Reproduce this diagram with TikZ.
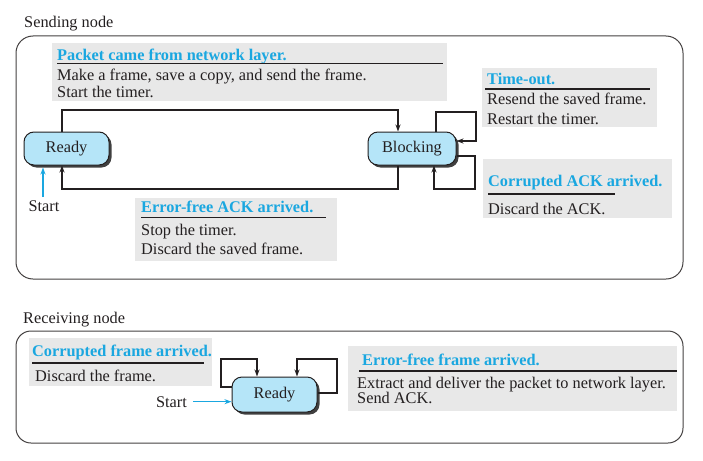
\documentclass[tikz,border=0pt]{standalone}
\usepackage{fontspec}
\setmainfont{Liberation Serif}
\usetikzlibrary{arrows.meta,shadows}
\definecolor{ttl}{HTML}{1AA7E0}
\definecolor{sfill}{HTML}{B5E5F8}
\definecolor{gbg}{HTML}{E8E8E8}
\definecolor{ink}{HTML}{231F20}
\tikzset{
  txt/.style={anchor=base west, inner sep=0pt, text=ink, font=\fontsize{16.3}{19}\selectfont},
  ttltxt/.style={txt, text=ttl, font=\fontsize{16.3}{19}\selectfont\bfseries},
  gbox/.style={fill=gbg, draw=none, inner sep=0pt},
  uline/.style={draw=ink, line width=1.1pt},
  frame/.style={draw=ink!85, line width=1pt},
  state/.style={draw=ink, line width=1pt, fill=sfill, rounded corners=10pt, inner sep=0pt,
    text=ink, font=\fontsize{16.3}{19}\selectfont,
    drop shadow={shadow xshift=2.5pt, shadow yshift=-2.5pt, fill=black!75, opacity=1}},
  conn/.style={draw=ink, line width=1.4pt, -{Stealth[length=7pt,width=5pt]}},
  startarr/.style={draw=ttl, line width=1.3pt, -{Stealth[length=7pt,width=5pt]}},
}
\begin{document}
\begin{tikzpicture}[x=1pt,y=-1pt]
\useasboundingbox (0,0) rectangle (703,460);
% ---------- Sending node ----------
\node[txt] (lsend) at (24,28) {Sending node};
\draw[frame, rounded corners=17pt] (16,36) rectangle (683,279);

\node[gbox, minimum width=395pt, minimum height=58pt] (bpkt) at (249.5,72) {};
\node[ttltxt] (tpkt) at (57,60) {Packet came from network layer.};
\draw[uline] (57,63.5) -- (443,63.5);
\node[txt] (pkt1) at (57,80) {Make a frame, save a copy, and send the frame.};
\node[txt] (pkt2) at (57,97) {Start the timer.};

\node[gbox, minimum width=175pt, minimum height=59pt] (btmo) at (569.5,97.5) {};
\node[ttltxt] (ttmo) at (487,84) {Time-out.};
\draw[uline] (485,89) -- (650,89);
\node[txt] (tmo1) at (487,104) {Resend the saved frame.};
\node[txt] (tmo2) at (487,124) {Restart the timer.};

\node[gbox, minimum width=189pt, minimum height=59pt] (bcak) at (577.5,188.5) {};
\node[ttltxt] (tcak) at (488,186) {Corrupted ACK arrived.};
\draw[uline] (488,194) -- (615,194);
\node[txt] (cak1) at (488,214) {Discard the ACK.};

\node[gbox, minimum width=202pt, minimum height=63pt] (beak) at (236,229.5) {};
\node[ttltxt] (teak) at (141,212) {Error-free ACK arrived.};
\draw[uline] (141,217.5) -- (326,217.5);
\node[txt] (eak1) at (141,235) {Stop the timer.};
\node[txt] (eak2) at (141,254) {Discard the saved frame.};

\node[state, minimum width=85pt, minimum height=33pt] (rdy) at (66.5,148.5) {Ready};
\node[state, minimum width=88pt, minimum height=33pt] (blk) at (412,148.5) {Blocking};

\coordinate (c1) at (62,110);
\coordinate (c2) at (398,110);
\draw[conn] (rdy.north -| c1) -- (c1) -- (c2) -- (blk.north -| c2);
\coordinate (c3) at (62,189);
\coordinate (c4) at (398,189);
\draw[conn] (blk.south -| c4) -- (c4) -- (c3) -- (rdy.south -| c3);
\coordinate (t1) at (436,112);
\coordinate (t2) at (476,112);
\coordinate (t3) at (476,141);
\draw[conn] (blk.north -| t1) -- (t1) -- (t2) -- (t3) -- (blk.east |- t3);
\coordinate (u1) at (475,156);
\coordinate (u2) at (475,189);
\coordinate (u3) at (434,189);
\draw[conn] (blk.east |- u1) -- (u1) -- (u2) -- (u3) -- (blk.south -| u3);

\node[txt, anchor=base] (st1) at (44,211) {Start};
\coordinate (s1) at (43,197);
\draw[startarr] (s1) -- ([yshift=-2pt]rdy.south -| s1);

% ---------- Receiving node ----------
\node[txt] (lrecv) at (23,323) {Receiving node};
\draw[frame, rounded corners=15pt] (16,331) rectangle (683,443);

\node[gbox, minimum width=183pt, minimum height=48pt] (bcfr) at (120.5,362) {};
\node[ttltxt] (tcfr) at (32,356) {Corrupted frame arrived.};
\draw[uline] (32,363) -- (204,363);
\node[txt] (cfr1) at (35,381) {Discard the frame.};

\node[gbox, minimum width=329pt, minimum height=65pt] (befr) at (512.5,378.5) {};
\node[ttltxt] (tefr) at (362,365) {Error-free frame arrived.};
\draw[uline] (359,371) -- (677,371);
\node[txt] (efr1) at (357,388) {Extract and deliver the packet to network layer.};
\node[txt] (efr2) at (357,403) {Send ACK.};

\node[state, minimum width=85pt, minimum height=35pt] (rr) at (274.5,394.5) {Ready};
\coordinate (p1) at (221,387);
\coordinate (p2) at (221,359);
\coordinate (p3) at (257,359);
\draw[conn] (rr.west |- p1) -- (p1) -- (p2) -- (p3) -- (rr.north -| p3);
\coordinate (q1) at (337,393);
\coordinate (q2) at (337,359);
\coordinate (q3) at (297,359);
\draw[conn] (rr.east |- q1) -- (q1) -- (q2) -- (q3) -- (rr.north -| q3);

\node[txt, anchor=base east] (st2) at (187,407) {Start};
\draw[startarr] ([xshift=6pt]st2.east) -- (rr.west |- st2.east);
\end{tikzpicture}
\end{document}
